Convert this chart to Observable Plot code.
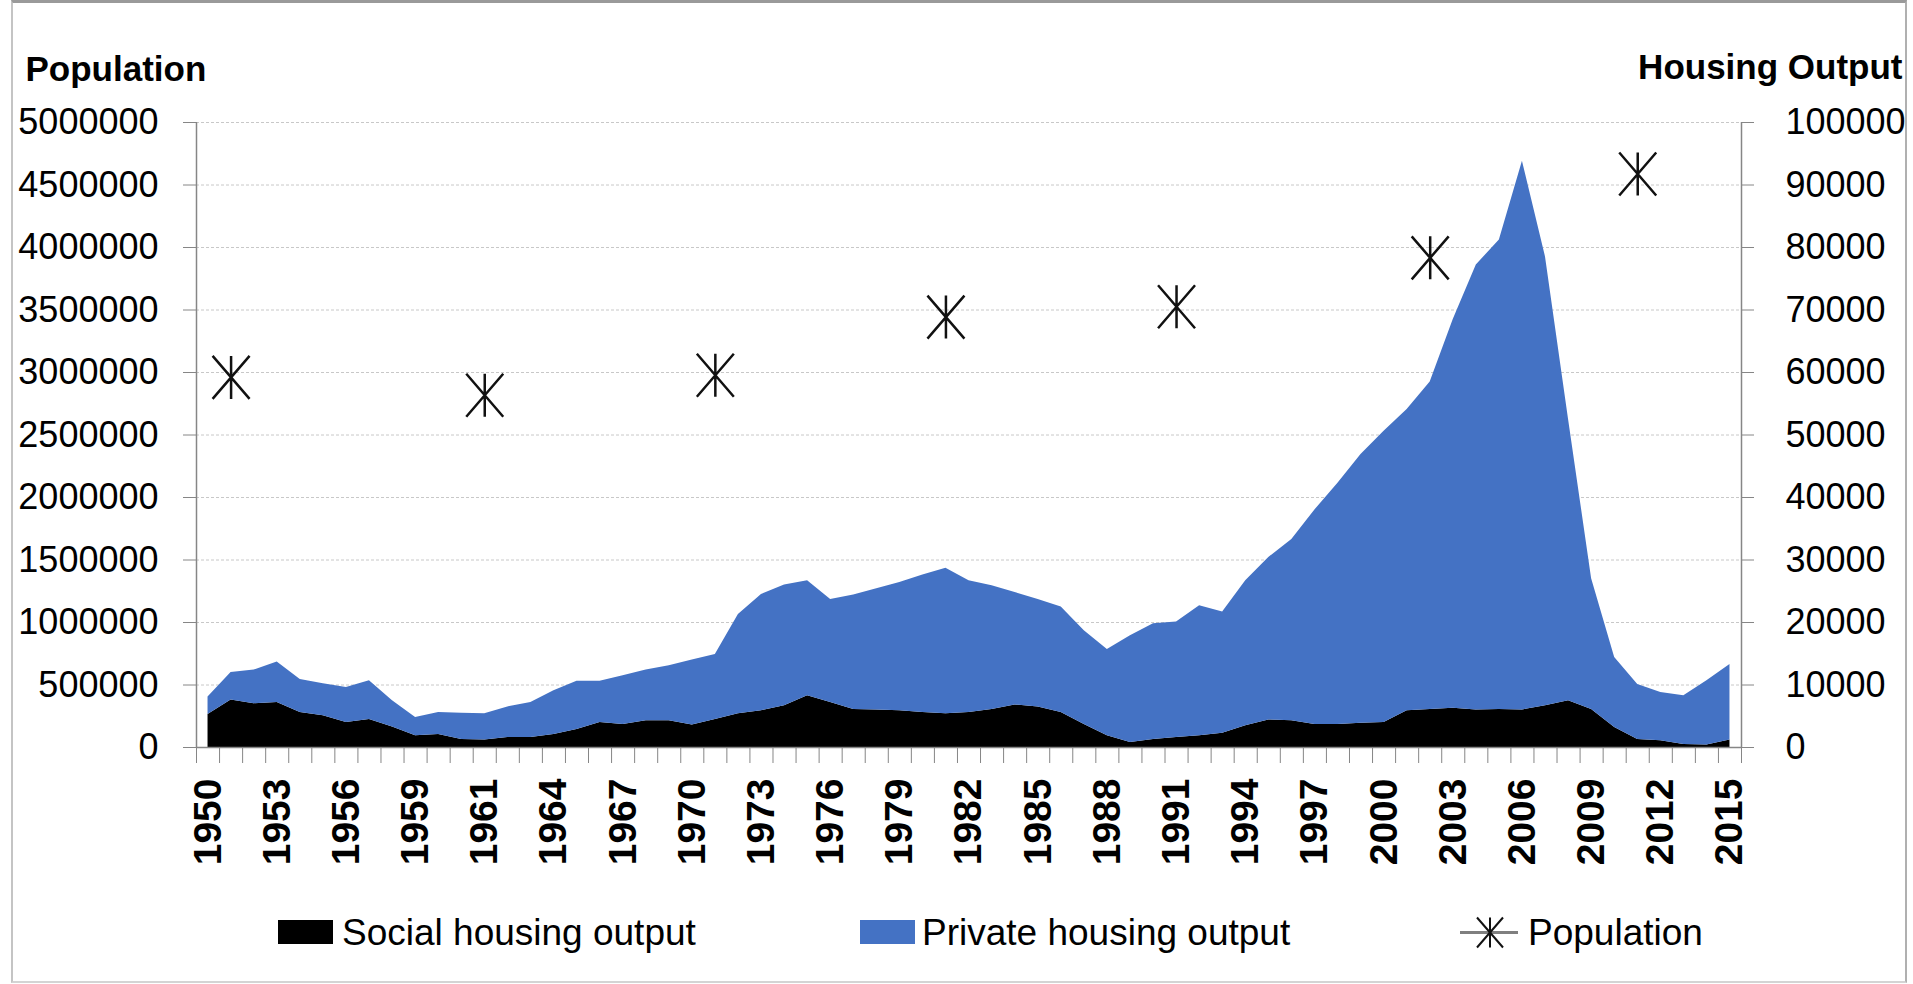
<!DOCTYPE html>
<html>
<head>
<meta charset="utf-8">
<script src="https://cdn.jsdelivr.net/npm/d3@7"></script>
<script src="https://cdn.jsdelivr.net/npm/@observablehq/plot@0.6"></script>
<style>
html, body { margin: 0; padding: 0; background: #fff; width: 1913px; height: 984px; overflow: hidden; font-family: "Liberation Sans", Arial, sans-serif; }
#frame { position: absolute; left: 11px; top: 0; width: 1896px; height: 983px; box-sizing: border-box; border-top: 3px solid #9a9a9a; border-left: 2px solid #c4c4c4; border-right: 2px solid #b0b0b0; border-bottom: 2px solid #d4d4d4; }
#chart { position: absolute; left: 0; top: 0; }
.leg { position: absolute; font-size: 37px; line-height: 37px; top: 914px; color: #000; white-space: nowrap; }
.sw { position: absolute; top: 920px; width: 55px; height: 24px; }
</style>
</head>
<body>
<div id="frame"></div>
<div id="chart"></div>
<div class="sw" style="left:278px;background:#000000"></div>
<div class="leg" style="left:342px">Social housing output</div>
<div class="sw" style="left:860px;background:#4472C4"></div>
<div class="leg" style="left:922px">Private housing output</div>
<svg style="position:absolute;left:1458px;top:914px" width="64" height="37">
  <line x1="2" x2="60" y1="18.5" y2="18.5" stroke="#7f7f7f" stroke-width="3"/>
  <g stroke="#111" stroke-width="2" fill="none">
    <line x1="32" x2="32" y1="3.5" y2="33.5"/>
    <line x1="19" x2="45" y1="3.5" y2="33.5"/>
    <line x1="45" x2="19" y1="3.5" y2="33.5"/>
  </g>
</svg>
<div class="leg" style="left:1528px">Population</div>
<script>
// Category labels (67 categories on the x axis)
const yearLabels = [
  "1950","1951","1952","1953","1954","1955","1956","1957","1958","1959",
  "1960","1960","1961","1962","1963","1964","1965","1966","1967","1968",
  "1969","1970","1971","1972","1973","1974","1975","1976","1977","1978",
  "1979","1980","1981","1982","1983","1984","1985","1986","1987","1988",
  "1989","1990","1991","1992","1993","1994","1995","1996","1997","1998",
  "1999","2000","2001","2002","2003","2004","2005","2006","2007","2008",
  "2009","2010","2011","2012","2013","2014","2015"
];

// Housing output (units per year)
const socialOutput = [
  5300,7600,7000,7200,5600,5100,4000,4500,3300,1900,
  2100,1300,1200,1600,1600,2100,2900,4000,3700,4300,
  4300,3600,4500,5400,5900,6700,8300,7200,6100,6000,
  5900,5600,5400,5600,6100,6800,6500,5600,3700,1900,
  800,1300,1600,1900,2300,3500,4400,4300,3700,3700,
  3900,4000,5900,6100,6300,6000,6100,6000,6700,7500,
  6100,3200,1300,1100,500,400,1200
];
const privateOutput = [
  2800,4400,5400,6500,5300,5100,5600,6200,4200,2900,
  3500,4200,4200,4900,5600,7000,7700,6600,7800,8100,
  8800,10400,10400,15900,18600,19300,18400,16500,18300,19400,
  20500,22000,23300,21100,19800,18000,17200,16900,15000,13800,
  17100,18500,18500,20800,19400,23200,26000,29000,34300,38600,
  43000,46600,48200,52400,62200,71200,75100,87800,71800,45000,
  20900,11200,8800,7700,7800,10300,12100
];

// Census population
const censusYears = ["1951","1961","1971","1981","1991","2002","2011"];
const population = [2960593, 2818341, 2978248, 3443405, 3525719, 3917203, 4588252];

const seriesNames = ["Social housing output", "Private housing output"];
const seriesColors = ["#000000", "#4472C4"];
const housingTicks = [0,10000,20000,30000,40000,50000,60000,70000,80000,90000,100000];
const populationMax = 5000000;
const housingMax = 100000;
const popRatio = populationMax / housingMax;

const rows = [];
socialOutput.forEach((v, i) => rows.push({i, type: seriesNames[0], value: v}));
privateOutput.forEach((v, i) => rows.push({i, type: seriesNames[1], value: v}));

const censusRows = censusYears.map((y, k) => ({i: yearLabels.indexOf(y), pop: population[k]}));

const n = yearLabels.length;
const boundaries = d3.range(0, n + 1).map(k => k - 0.5);
const labelIdx = d3.range(0, n, 3);

const starSymbol = {
  draw(ctx, size) {
    const r = Math.sqrt(size / Math.PI);
    const w = r * 0.86;
    ctx.moveTo(0, -r); ctx.lineTo(0, r);
    ctx.moveTo(-w, -r); ctx.lineTo(w, r);
    ctx.moveTo(w, -r); ctx.lineTo(-w, r);
  }
};

const chart = Plot.plot({
  width: 1913,
  height: 890,
  marginLeft: 196,
  marginRight: 172,
  marginTop: 122,
  marginBottom: 143,
  style: {fontFamily: '"Liberation Sans", Arial, sans-serif', fontSize: "36px", color: "#000", background: "transparent", overflow: "visible"},
  x: {type: "linear", domain: [-0.5, n - 0.5], axis: null},
  y: {domain: [0, housingMax], axis: null},
  color: {domain: seriesNames, range: seriesColors},
  marks: [
    Plot.gridY(housingTicks.slice(1), {stroke: "#c8c8c8", strokeOpacity: 1, strokeDasharray: "3,2"}),
    Plot.areaY(rows, {x: "i", y: "value", fill: "type"}),
    Plot.ruleX([-0.5, n - 0.5], {stroke: "#868686", strokeWidth: 1.5}),
    Plot.ruleY([0], {stroke: "#868686", strokeWidth: 1.5}),
    Plot.axisY(housingTicks, {anchor: "left", tickSize: 13, tickPadding: 25, tickFormat: d => String(d * popRatio), stroke: "#868686", fill: "#000", fontSize: 36, label: null}),
    Plot.axisY(housingTicks, {anchor: "right", tickSize: 12, tickPadding: 32, tickFormat: d => String(d), stroke: "#868686", fill: "#000", fontSize: 36, label: null}),
    Plot.axisX(boundaries, {anchor: "bottom", tickSize: 16, tickFormat: () => "", stroke: "#868686", label: null}),
    Plot.axisX(labelIdx, {anchor: "bottom", tickSize: 0, tickPadding: 31, tickRotate: -90, tickFormat: i => yearLabels[i], fontSize: 39, fontWeight: "bold", fill: "#000", label: null}),
    Plot.dot(censusRows, {x: "i", y: d => d.pop / popRatio, r: 21.5, symbol: starSymbol, fill: "none", stroke: "#111", strokeWidth: 2.5}),
    Plot.text(["Population"], {frameAnchor: "top-left", dx: -171, dy: -42, textAnchor: "start", lineAnchor: "bottom", fontWeight: "bold", fontSize: 35, fill: "#000"}),
    Plot.text(["Housing Output"], {frameAnchor: "top-right", dx: 161, dy: -44, textAnchor: "end", lineAnchor: "bottom", fontWeight: "bold", fontSize: 35, fill: "#000"})
  ]
});
document.getElementById("chart").appendChild(chart);
</script>
</body>
</html>
